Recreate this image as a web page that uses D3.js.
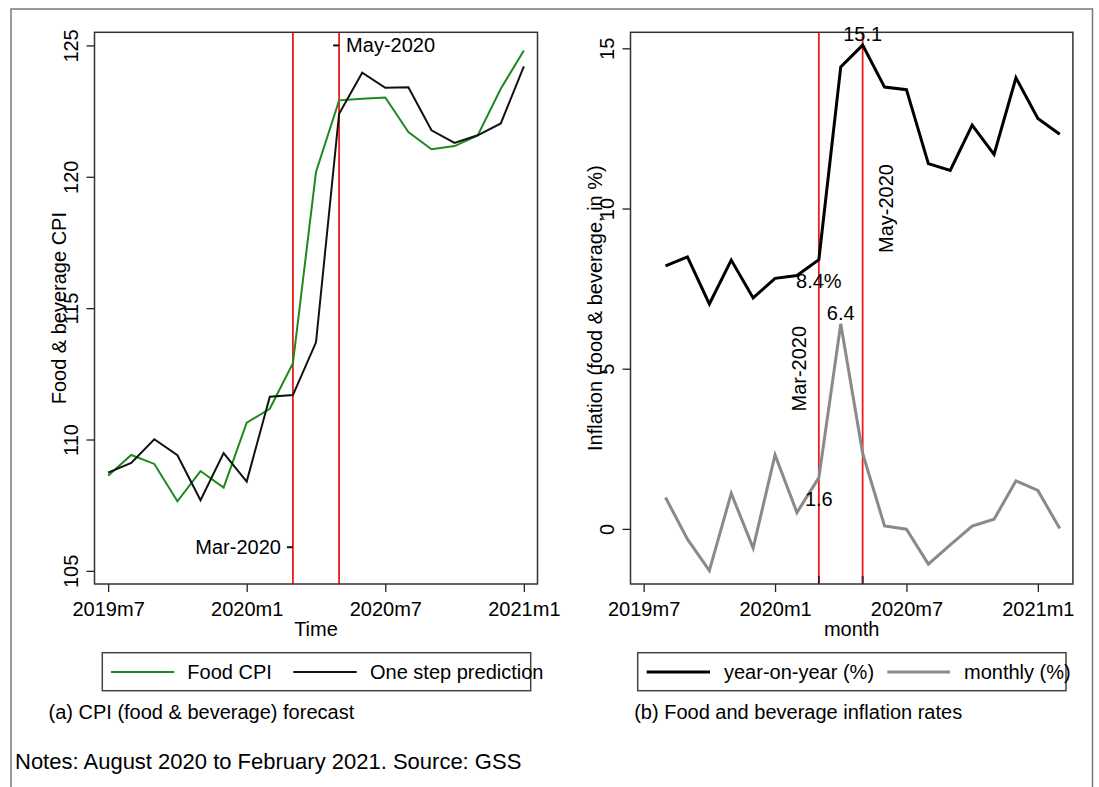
<!DOCTYPE html>
<html>
<head>
<meta charset="utf-8">
<script src="https://cdn.jsdelivr.net/npm/d3@7"></script>
<style>
  body { margin: 0; background: #fff; }
  svg text { font-family: "Liberation Sans", Arial, sans-serif; fill: #000; }
</style>
</head>
<body>
<svg id="chart" width="1099" height="787"></svg>
<script>
// ---- data ----
var cpiMonths = ["2019m7","2019m8","2019m9","2019m10","2019m11","2019m12","2020m1","2020m2","2020m3","2020m4",
                 "2020m5","2020m6","2020m7","2020m8","2020m9","2020m10","2020m11","2020m12","2021m1"];
var foodCPI = [108.62,109.41,109.07,107.65,108.8,108.17,110.64,111.17,112.9,120.18,
               122.91,122.97,123.02,121.7,121.05,121.17,121.57,123.35,124.81];
var oneStep = [108.74,109.11,110.01,109.4,107.69,109.48,108.4,111.63,111.69,113.7,
               122.4,123.96,123.39,123.41,121.77,121.29,121.58,122.03,124.2];

var inflMonths = ["2019m8","2019m9","2019m10","2019m11","2019m12","2020m1","2020m2","2020m3","2020m4","2020m5",
                  "2020m6","2020m7","2020m8","2020m9","2020m10","2020m11","2020m12","2021m1","2021m2"];
var yoy = [8.21,8.49,7.02,8.39,7.21,7.82,7.91,8.4,14.42,15.1,
           13.79,13.71,11.4,11.19,12.6,11.69,14.08,12.81,12.32];
var monthly = [0.98,-0.32,-1.3,1.11,-0.6,2.31,0.51,1.6,6.4,2.36,
               0.09,-0.01,-1.1,-0.5,0.09,0.3,1.5,1.2,0.01];

var xTickLabels = ["2019m7","2020m1","2020m7","2021m1"];
var cpiTicks = [105,110,115,120,125];
var inflTicks = [0,5,10,15];
var eventMonths = ["2020m3","2020m5"];

// month string -> index from 2019m7
function mIdx(s) {
  var p = s.split("m");
  return (+p[0] - 2019) * 12 + (+p[1] - 7);
}

var svg = d3.select("#chart");

// outer frame
svg.append("rect")
  .attr("x", 11).attr("y", 9).attr("width", 1081.5).attr("height", 800)
  .attr("fill", "none").attr("stroke", "#7a7a7a").attr("stroke-width", 1.5);

function panel(o) {
  var x = d3.scaleLinear().domain(o.xDomain).range([o.left, o.right]);
  var y = d3.scaleLinear().domain(o.yDomain).range([o.bottom, o.top]);
  var g = svg.append("g");

  // y axis
  var ya = g.append("g").attr("transform", "translate(" + o.left + ",0)")
    .call(d3.axisLeft(y).tickValues(o.yTicks).tickSize(8).tickFormat(d3.format("d")));
  ya.select(".domain").remove();
  ya.selectAll("line").attr("stroke", "#222").attr("stroke-width", 1.3);
  ya.selectAll("text")
    .attr("transform", "rotate(-90)")
    .attr("x", 0).attr("y", -17).attr("dy", 0)
    .attr("text-anchor", "middle")
    .style("font-size", "20px");

  // x axis
  var xa = g.append("g").attr("transform", "translate(0," + o.bottom + ")")
    .call(d3.axisBottom(x).tickValues(xTickLabels.map(mIdx)).tickSize(8)
      .tickFormat(function(d, i) { return xTickLabels[i]; }));
  xa.select(".domain").remove();
  xa.selectAll("line").attr("stroke", "#222").attr("stroke-width", 1.3);
  xa.selectAll("text").attr("y", 32).attr("dy", 0).style("font-size", "20px");

  // axis titles
  g.append("text")
    .attr("transform", "translate(" + o.yTitleX + "," + ((o.top + o.bottom) / 2) + ") rotate(-90)")
    .attr("text-anchor", "middle").style("font-size", "20px").text(o.yTitle);
  g.append("text")
    .attr("x", (o.left + o.right) / 2).attr("y", 636)
    .attr("text-anchor", "middle").style("font-size", "20px").text(o.xTitle);

  // event lines
  eventMonths.forEach(function(m) {
    g.append("line")
      .attr("x1", x(mIdx(m))).attr("x2", x(mIdx(m)))
      .attr("y1", o.top).attr("y2", o.bottom)
      .attr("stroke", "#ee1c1c").attr("stroke-width", 1.8);
    if (o.innerTicks) {
      g.append("line")
        .attr("x1", x(mIdx(m))).attr("x2", x(mIdx(m)))
        .attr("y1", o.bottom - 8).attr("y2", o.bottom)
        .attr("stroke", "#3a2020").attr("stroke-width", 1.8);
    }
  });

  // series
  o.series.forEach(function(s) {
    var line = d3.line()
      .x(function(d, i) { return x(mIdx(o.months[i])); })
      .y(function(d) { return y(d); });
    g.append("path").datum(s.values)
      .attr("d", line)
      .attr("fill", "none")
      .attr("stroke", s.color)
      .attr("stroke-width", s.width)
      .attr("stroke-linejoin", "miter");
  });

  // plot box
  g.append("rect")
    .attr("x", o.left).attr("y", o.top)
    .attr("width", o.right - o.left).attr("height", o.bottom - o.top)
    .attr("fill", "none").attr("stroke", "#333").attr("stroke-width", 1.5);

  return { x: x, y: y, g: g };
}

function legend(items, box) {
  var g = svg.append("g");
  g.append("rect")
    .attr("x", box.x0).attr("y", 652.7).attr("width", box.x1 - box.x0).attr("height", 38)
    .attr("fill", "none").attr("stroke", "#444").attr("stroke-width", 1.5);
  items.forEach(function(it) {
    g.append("line")
      .attr("x1", it.sx0).attr("x2", it.sx1).attr("y1", 672).attr("y2", 672)
      .attr("stroke", it.color).attr("stroke-width", it.width);
    g.append("text")
      .attr("x", it.tx).attr("y", 679)
      .style("font-size", "20px").text(it.label);
  });
}

// ---- panel (a) ----
var a = panel({
  left: 94.5, right: 537.5, top: 32.3, bottom: 584,
  xDomain: [-0.59, 18.59], yDomain: [104.5, 125.5],
  yTicks: cpiTicks, yTitle: "Food & beverage CPI", yTitleX: 66, xTitle: "Time",
  months: cpiMonths, innerTicks: false,
  series: [
    { values: foodCPI, color: "#1e8a1e", width: 2 },
    { values: oneStep, color: "#111", width: 2 }
  ]
});

// event markers with dash + label
var aMay = a.x(mIdx("2020m5")), aMar = a.x(mIdx("2020m3"));
a.g.append("line").attr("x1", aMay - 6).attr("x2", aMay).attr("y1", a.y(125)).attr("y2", a.y(125))
  .attr("stroke", "#111").attr("stroke-width", 2);
a.g.append("text").attr("x", aMay + 7).attr("y", a.y(125) + 7)
  .style("font-size", "20px").text("May-2020");
a.g.append("line").attr("x1", aMar - 6).attr("x2", aMar).attr("y1", a.y(105.9)).attr("y2", a.y(105.9))
  .attr("stroke", "#111").attr("stroke-width", 2);
a.g.append("text").attr("x", aMar - 12).attr("y", a.y(105.9) + 7)
  .attr("text-anchor", "end").style("font-size", "20px").text("Mar-2020");

// ---- panel (b) ----
var b = panel({
  left: 630.5, right: 1072.9, top: 32.3, bottom: 584,
  xDomain: [-0.6, 19.6], yDomain: [-1.72, 15.5],
  yTicks: inflTicks, yTitle: "Inflation (food & beverage, in %)", yTitleX: 602, xTitle: "month",
  months: inflMonths, innerTicks: true,
  series: [
    { values: yoy, color: "#000", width: 3 },
    { values: monthly, color: "#8a8a8a", width: 3 }
  ]
});

// value labels
var bLabels = [
  { m: "2020m5", v: yoy[inflMonths.indexOf("2020m5")], text: "15.1", pos: "above" },
  { m: "2020m3", v: yoy[inflMonths.indexOf("2020m3")], text: "8.4%", pos: "below" },
  { m: "2020m4", v: monthly[inflMonths.indexOf("2020m4")], text: "6.4", pos: "above" },
  { m: "2020m3", v: monthly[inflMonths.indexOf("2020m3")], text: "1.6", pos: "below" }
];
bLabels.forEach(function(l) {
  b.g.append("text")
    .attr("x", b.x(mIdx(l.m)))
    .attr("y", l.pos === "above" ? b.y(l.v) - 4 : b.y(l.v) + 28)
    .attr("text-anchor", "middle").style("font-size", "20px").text(l.text);
});

// rotated event labels
b.g.append("text")
  .attr("transform", "translate(" + (b.x(mIdx("2020m5")) + 30) + "," + b.y(10) + ") rotate(-90)")
  .attr("text-anchor", "middle").style("font-size", "20px").text("May-2020");
b.g.append("text")
  .attr("transform", "translate(" + (b.x(mIdx("2020m3")) - 13) + "," + b.y(5) + ") rotate(-90)")
  .attr("text-anchor", "middle").style("font-size", "20px").text("Mar-2020");

// ---- legends ----
legend([
  { sx0: 111, sx1: 174.3, color: "#1e8a1e", width: 2, tx: 187.3, label: "Food CPI" },
  { sx0: 293.3, sx1: 356.7, color: "#111", width: 2, tx: 370, label: "One step prediction" }
], { x0: 102.3, x1: 530.7 });
legend([
  { sx0: 646.7, sx1: 710, color: "#000", width: 3, tx: 724, label: "year-on-year (%)" },
  { sx0: 887.3, sx1: 950, color: "#8a8a8a", width: 3, tx: 964, label: "monthly (%)" }
], { x0: 637.7, x1: 1066 });

// ---- captions ----
svg.append("text").attr("x", 48.5).attr("y", 719).style("font-size", "20px")
  .text("(a) CPI (food & beverage) forecast");
svg.append("text").attr("x", 634.2).attr("y", 719).style("font-size", "20px")
  .text("(b) Food and beverage inflation rates");
svg.append("text").attr("x", 15).attr("y", 769).style("font-size", "22px")
  .text("Notes: August 2020 to February 2021. Source: GSS");
</script>
</body>
</html>
